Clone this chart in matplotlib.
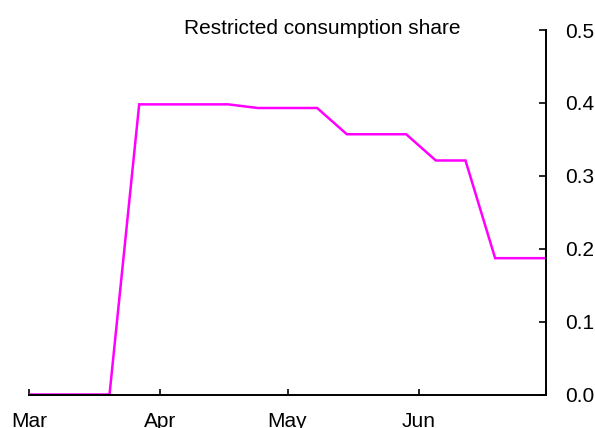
"""
Restricted consumption share, weekly, Mar-Jun 2020
"""
import matplotlib
matplotlib.use("Agg")
import matplotlib.pyplot as plt
import numpy as np

plt.rcParams["font.family"] = ["Liberation Sans", "DejaVu Sans"]

# weekly observations (Fridays)
dates = np.array([
    "2020-02-28", "2020-03-06", "2020-03-13", "2020-03-20", "2020-03-27",
    "2020-04-03", "2020-04-10", "2020-04-17", "2020-04-24", "2020-05-01",
    "2020-05-08", "2020-05-15", "2020-05-22", "2020-05-29", "2020-06-05",
    "2020-06-12", "2020-06-19", "2020-06-26", "2020-07-03",
], dtype="datetime64[D]")
share = [0.0, 0.0, 0.0, 0.0, 0.398,
         0.398, 0.398, 0.398, 0.393, 0.393,
         0.393, 0.357, 0.357, 0.357, 0.321,
         0.321, 0.187, 0.187, 0.187]

month_ticks = np.array(["2020-03-01", "2020-04-01", "2020-05-01",
                        "2020-06-01", "2020-07-01"], dtype="datetime64[D]")
month_labels = ["Mar", "Apr", "May", "Jun", ""]
y_ticks = [0.0, 0.1, 0.2, 0.3, 0.4, 0.5]

MAGENTA = "#ff00ff"

fig = plt.figure(figsize=(5.95, 4.28), dpi=100, facecolor="white")
ax = fig.add_axes([29 / 595, 1 - 394.5 / 428, (546 - 29) / 595, (394.5 - 30) / 428])

ax.plot(dates, share, color=MAGENTA, linewidth=1.8, solid_joinstyle="miter")

ax.set_xlim(month_ticks[0], month_ticks[-1])
ax.set_ylim(0, 0.5)

ax.spines["left"].set_visible(False)
ax.spines["top"].set_visible(False)
ax.spines["right"].set_linewidth(1.4)
ax.spines["bottom"].set_linewidth(1.4)

ax.yaxis.tick_right()
ax.set_yticks(y_ticks)
ax.set_yticklabels([f"{v:.1f}" for v in y_ticks])
ax.set_xticks(month_ticks)
ax.set_xticklabels(month_labels)

ax.tick_params(axis="y", direction="in", length=5, width=1.2, pad=13.5,
               labelsize=15, colors="black")
ax.tick_params(axis="x", direction="in", length=4, width=1.2, pad=12.5,
               labelsize=15, colors="black")

fig.text(322 / 595, 1 - 28 / 428, "Restricted consumption share",
         ha="center", va="center", fontsize=15, color="black")

fig.savefig("out.png", dpi=100, facecolor="white")
plt.close(fig)
